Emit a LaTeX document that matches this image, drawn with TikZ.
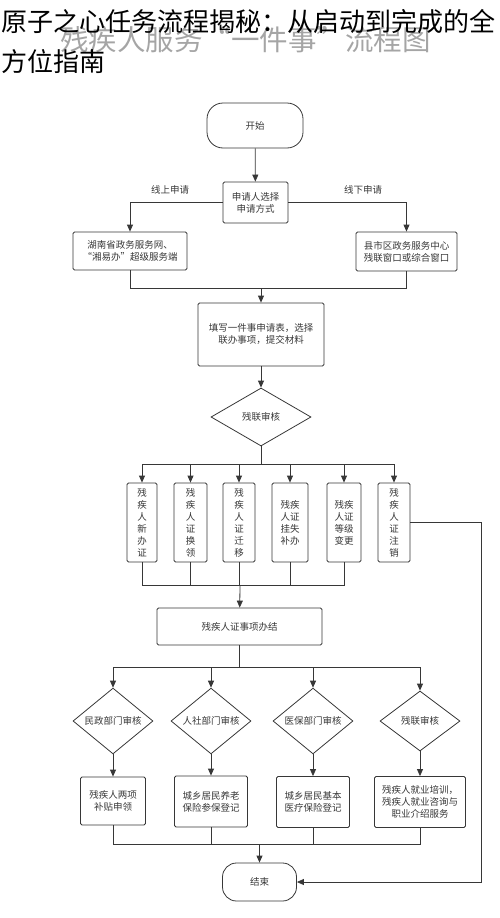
\documentclass[tikz,border=0pt]{standalone}
\usepackage{fontspec}
\setmainfont{Noto Sans CJK SC}
\usetikzlibrary{shapes.geometric,arrows.meta}
\definecolor{ln}{RGB}{55,55,55}
\definecolor{wm}{RGB}{165,165,165}

\begin{document}
\begin{tikzpicture}
	[x=1pt,y=-1pt,line width=0.8pt,draw=ln,
	 every node/.style={draw=ln,text=ln,line width=0.8pt,inner sep=0pt,align=center,font=\fontsize{9.5}{12}\selectfont},
	 box/.style={rectangle,rounded corners=1.5pt},
	 term/.style={rectangle,rounded corners=16pt},
	 dia/.style={diamond},
	 lbl/.style={draw=none},
	 >={Triangle[length=7pt,width=6pt]}]
	\useasboundingbox (0,0) rectangle (500,918);

	\node[lbl,text=wm,anchor=base west,font=\fontsize{28.5}{30}\selectfont] (wm) at (60,50) {残疾人服务“一件事”流程图};
	\node[lbl,text=black,anchor=base west,font=\fontsize{26}{30}\selectfont] (t1) at (1,31) {原子之心任务流程揭秘：从启动到完成的全};
	\node[lbl,text=black,anchor=base west,font=\fontsize{26}{30}\selectfont] (t2) at (1,71) {方位指南};

	\node[term,minimum width=96,minimum height=45] (s) at (255,125.5) {开始};
	\node[box,minimum width=65,minimum height=41] (sel) at (255.5,202.5) {申请人选择\\申请方式};
	\node[box,minimum width=114,minimum height=38] (on) at (130,251) {湖南省政务服务网、\\“湘易办”超级服务端};
	\node[box,minimum width=101,minimum height=39] (off) at (406.5,251.5) {县市区政务服务中心\\残联窗口或综合窗口};
	\node[lbl] (l1) at (170,190) {线上申请};
	\node[lbl] (l2) at (363,190) {线下申请};
	\node[box,minimum width=126,minimum height=63] (fill) at (261,334.5) {填写一件事申请表，选择\\联办事项，提交材料};
	\node[dia,minimum width=100,minimum height=58] (chk) at (261,417) {残联审核};

	\node[box,minimum width=30,minimum height=79] (v1) at (142,522.5) {残\\疾\\人\\新\\办\\证};
	\node[box,minimum width=33,minimum height=79] (v2) at (190.5,522.5) {残\\疾\\人\\证\\换\\领};
	\node[box,minimum width=32,minimum height=79] (v3) at (239,522.5) {残\\疾\\人\\证\\迁\\移};
	\node[box,minimum width=36,minimum height=79] (v4) at (290,522.5) {残疾\\人证\\挂失\\补办};
	\node[box,minimum width=34,minimum height=79] (v5) at (344,522.5) {残疾\\人证\\等级\\变更};
	\node[box,minimum width=32,minimum height=79] (v6) at (394,522.5) {残\\疾\\人\\证\\注\\销};

	\node[box,minimum width=165,minimum height=37] (done) at (239.5,626.5) {残疾人证事项办结};

	\node[dia,minimum width=80,minimum height=60] (d1) at (113,721) {民政部门审核};
	\node[dia,minimum width=80,minimum height=60] (d2) at (211,721) {人社部门审核};
	\node[dia,minimum width=80,minimum height=60] (d3) at (313,721) {医保部门审核};
	\node[dia,minimum width=80,minimum height=60] (d4) at (420,721) {残联审核};

	\node[box,minimum width=65,minimum height=48] (b1) at (113,801) {残疾人两项\\补贴申领};
	\node[box,minimum width=73,minimum height=51] (b2) at (211,801.5) {城乡居民养老\\保险参保登记};
	\node[box,minimum width=73,minimum height=51] (b3) at (313,802) {城乡居民基本\\医疗保险登记};
	\node[box,minimum width=91,minimum height=51] (b4) at (420,802) {残疾人就业培训，\\残疾人就业咨询与\\职业介绍服务};

	\node[term,rounded corners=14pt,minimum width=74,minimum height=38] (e) at (259.5,882) {结束};

	\coordinate (j1) at (261,288);
	\coordinate (j2) at (261,464);
	\coordinate (j3) at (240,585);
	\coordinate (j4) at (239.5,667);
	\coordinate (j5) at (259.5,844);
	\coordinate (c1) at (481,522.5);

	\foreach \from/\to in {s/sel,j1/fill,fill/chk,j3/done,d1/b1,d2/b2,d3/b3,d4/b4,j5/e}
	\draw[->] (\from) -- (\to);
	\foreach \from/\to in {chk/j2,done/j4}
	\draw (\from) -- (\to);
	\draw[->] (sel.west) -| (on.north);
	\draw[->] (sel.east) -| (off.north);
	\foreach \from in {on,off}
	\draw (\from.south) |- (j1);
	\foreach \to in {v1,v2,v3,v4,v5,v6}
	\draw[->] (j2) -| (\to.north);
	\foreach \from in {v1,v2,v3,v4,v5}
	\draw (\from.south) |- (j3);
	\foreach \to in {d1,d2,d3,d4}
	\draw[->] (j4) -| (\to.north);
	\foreach \from in {b1,b2,b3,b4}
	\draw (\from.south) |- (j5);
	\draw[->] (v6.east) -- (c1) |- (e.east);
\end{tikzpicture}
\end{document}
